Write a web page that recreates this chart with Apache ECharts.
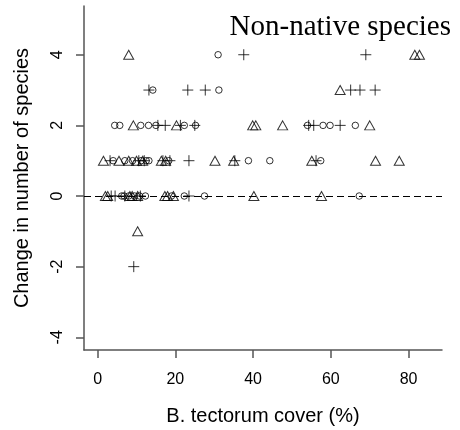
<!DOCTYPE html>
<html>
<head>
<meta charset="utf-8">
<script src="https://cdn.jsdelivr.net/npm/echarts@6/dist/echarts.min.js"></script>
<style>html,body{margin:0;padding:0;background:#fff}#c{width:460px;height:430px}</style>
</head>
<body>
<div id="c"></div>
<script>
// Data
var triangleX = [8.0, 81.6, 82.8, 62.4, 9.2, 20.3, 39.9, 40.7, 47.6, 70.0,
  1.5, 5.5, 8.0, 10.0, 11.6, 16.4, 17.5, 30.2, 35.0, 55.1, 71.5, 77.6,
  2.0, 2.6, 8.3, 8.9, 10.3, 17.3, 18.0, 19.5, 40.2, 57.6, 10.3];
var triangleY = [4, 4, 4, 3, 2, 2, 2, 2, 2, 2,
  1, 1, 1, 1, 1, 1, 1, 1, 1, 1, 1, 1,
  0, 0, 0, 0, 0, 0, 0, 0, 0, 0, -1];

var plusX = [37.6, 69.0, 13.2, 23.2, 27.7, 65.1, 67.5, 71.4,
  15.5, 17.4, 21.3, 25.0, 54.3, 55.6, 62.4,
  3.2, 10.6, 12.0, 16.8, 18.6, 23.5, 35.3, 56.2,
  3.5, 4.5, 7.0, 11.0, 23.5, 9.3];
var plusY = [4, 4, 3, 3, 3, 3, 3, 3,
  2, 2, 2, 2, 2, 2, 2,
  1, 1, 1, 1, 1, 1, 1, 1,
  0, 0, 0, 0, 0, -2];

var circleX = [31.0, 14.2, 31.2,
  4.4, 5.7, 11.1, 13.1, 15.0, 22.3, 25.2, 54.0, 58.0, 59.8, 66.3,
  4.0, 7.0, 9.0, 11.2, 12.5, 13.2, 18.3, 38.8, 44.3, 57.4,
  6.2, 6.8, 8.0, 9.5, 10.8, 12.3, 19.0, 22.3, 27.5, 67.3];
var circleY = [4, 3, 3,
  2, 2, 2, 2, 2, 2, 2, 2, 2, 2, 2,
  1, 1, 1, 1, 1, 1, 1, 1, 1, 1,
  0, 0, 0, 0, 0, 0, 0, 0, 0, 0];

var xTicks = [0, 20, 40, 60, 80];
var yTicks = [-4, -2, 0, 2, 4];
var titleText = 'Non-native species';
var xName = 'B. tectorum cover (%)';
var yName = 'Change in number of species';

function zip(xs, ys) { return xs.map(function (x, i) { return [x, ys[i]]; }); }

var chart = echarts.init(document.getElementById('c'), null, { renderer: 'canvas' });
var markStyle = { color: 'rgba(0,0,0,0)', borderColor: '#000', borderWidth: 1 };
chart.setOption({
  animation: false,
  backgroundColor: '#fff',
  title: {
    text: titleText, right: 4, top: 8,
    textStyle: { fontFamily: 'Liberation Serif', fontSize: 29, fontWeight: 'normal', color: '#000' }
  },
  grid: { left: 84, right: 18, top: 6, bottom: 80, containLabel: false, outerBoundsMode: 'none' },
  xAxis: {
    type: 'value', min: -3.5, max: 88.6,
    name: xName, nameLocation: 'middle', nameGap: 56,
    nameTextStyle: { fontFamily: 'Liberation Sans', fontSize: 20, color: '#000' },
    axisLine: { show: true, onZero: false, lineStyle: { color: '#555', width: 1.5 } },
    axisTick: { show: true, length: 8, customValues: xTicks, lineStyle: { color: '#555', width: 1.5 } },
    axisLabel: { customValues: xTicks, margin: 22, fontFamily: 'Liberation Sans', fontSize: 16, color: '#000' },
    splitLine: { show: false }
  },
  yAxis: {
    type: 'value', min: -4.36, max: 5.38,
    name: yName, nameLocation: 'middle', nameGap: 52, nameRotate: 90,
    nameTextStyle: { fontFamily: 'Liberation Sans', fontSize: 20, color: '#000' },
    axisLine: { show: true, onZero: false, lineStyle: { color: '#555', width: 1.5 } },
    axisTick: { show: true, length: 8, customValues: yTicks, lineStyle: { color: '#555', width: 1.5 } },
    axisLabel: { customValues: yTicks, rotate: 90, margin: 18, fontFamily: 'Liberation Sans', fontSize: 16, color: '#000' },
    splitLine: { show: false }
  },
  series: [
    {
      type: 'scatter', data: zip(triangleX, triangleY), symbol: 'triangle', symbolSize: [10, 9],
      itemStyle: markStyle, emphasis: { disabled: true }, z: 3,
      markLine: {
        silent: true, symbol: ['none', 'none'], label: { show: false },
        lineStyle: { color: '#000', type: [7, 4], width: 1 },
        data: [{ yAxis: 0 }]
      }
    },
    {
      type: 'scatter', data: zip(plusX, plusY), symbol: 'path://M0,5L10,5M5,0L5,10', symbolSize: 11,
      itemStyle: markStyle, emphasis: { disabled: true }, z: 3
    },
    {
      type: 'scatter', data: zip(circleX, circleY), symbol: 'circle', symbolSize: 6.5,
      itemStyle: markStyle, emphasis: { disabled: true }, z: 3
    }
  ]
});
</script>
</body>
</html>
